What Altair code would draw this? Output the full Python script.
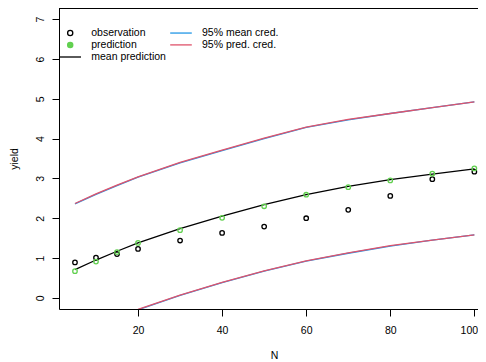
import altair as alt
import pandas as pd

# ---- data ----
N_all = [5, 10, 15, 20, 30, 40, 50, 60, 70, 80, 90, 100]
observation = [0.89, 1.01, 1.10, 1.23, 1.44, 1.63, 1.79, 2.00, 2.21, 2.56, 2.98, 3.17]
prediction = [0.67, 0.91, 1.15, 1.38, 1.70, 2.01, 2.30, 2.59, 2.78, 2.95, 3.12, 3.25]
mean_prediction = [0.71, 0.95, 1.17, 1.38, 1.74, 2.05, 2.34, 2.59, 2.80, 2.97, 3.11, 3.24]

mean_cred_upper = [2.36, 2.60, 2.82, 3.03, 3.39, 3.70, 4.00, 4.28, 4.47, 4.63, 4.78, 4.92]
pred_cred_upper = [2.37, 2.61, 2.83, 3.04, 3.40, 3.71, 4.01, 4.29, 4.48, 4.63, 4.78, 4.92]

N_lower = [20, 30, 40, 50, 60, 70, 80, 90, 100]
mean_cred_lower = [-0.30, 0.06, 0.38, 0.67, 0.92, 1.12, 1.30, 1.45, 1.58]
pred_cred_lower = [-0.29, 0.07, 0.39, 0.68, 0.93, 1.13, 1.31, 1.45, 1.58]

x_ticks = [20, 40, 60, 80, 100]
y_ticks = [0, 1, 2, 3, 4, 5, 6, 7]

legend_labels = ["observation", "prediction", "mean prediction", "95% mean cred.", "95% pred. cred."]

# ---- styles ----
BLACK = "#000000"
BLUE = "#2297E6"
RED = "#DF536B"
GREEN = "#61D04F"
FONT = "Liberation Sans"
FS = 10.5

OPEN_CIRCLE = "M0.52,0A0.52,0.52,0,1,1,-0.52,0A0.52,0.52,0,1,1,0.52,0Z"
DOT = ("M0.52,0A0.52,0.52,0,1,1,-0.52,0A0.52,0.52,0,1,1,0.52,0Z"
       "M0.3,0A0.3,0.3,0,1,1,-0.3,0A0.3,0.3,0,1,1,0.3,0Z"
       "M0.1,0A0.1,0.1,0,1,1,-0.1,0A0.1,0.1,0,1,1,0.1,0Z")
SEG = "M-2.16,0L2.16,0"
legend_colors = [BLACK, GREEN, BLACK, BLUE, RED]
legend_shapes = [OPEN_CIRCLE, DOT, SEG, SEG, SEG]

# ---- tables ----
pts = pd.DataFrame({"N": N_all, "obs": observation, "pred": prediction, "mean": mean_prediction})
mean_band = pd.concat([
    pd.DataFrame({"N": N_all, "value": mean_cred_upper, "bound": "upper"}),
    pd.DataFrame({"N": N_lower, "value": mean_cred_lower, "bound": "lower"}),
])
pred_band = pd.concat([
    pd.DataFrame({"N": N_all, "value": pred_cred_upper, "bound": "upper"}),
    pd.DataFrame({"N": N_lower, "value": pred_cred_lower, "bound": "lower"}),
])
leg_df = pd.DataFrame({"series": legend_labels})

W, H = 419, 301
xscale = alt.Scale(domain=[1.2, 1.2 + W / 4.204], nice=False, zero=False)
yscale = alt.Scale(domain=[-0.28, 7.28], nice=False, zero=False)

x_bottom = alt.Axis(values=x_ticks, title="N", tickSize=7,
                    labelBaseline="middle", labelPadding=14, labelFlush=False,
                    labelOffset={"condition": {"test": "datum.value === 100", "value": -5.5}, "value": 0},
                    titleX=215, titleY=46, titleBaseline="middle",
                    domain=True, grid=False)
y_left = alt.Axis(values=y_ticks, title="yield", tickSize=7, labelAngle=270,
                  labelAlign="center", labelBaseline="middle", labelPadding=12,
                  labelFlush=False, titleX=-45, titleBaseline="middle",
                  domain=True, grid=False)

base_x = alt.X("N:Q", scale=xscale, axis=x_bottom)

blue_lines = alt.Chart(mean_band).mark_line(color=BLUE, strokeWidth=1.3, clip=True).encode(
    x=base_x,
    y=alt.Y("value:Q", scale=yscale, axis=y_left),
    detail="bound:N",
)
red_lines = alt.Chart(pred_band).mark_line(color=RED, strokeWidth=1.3, clip=True).encode(
    x=base_x,
    y=alt.Y("value:Q", scale=yscale, axis=y_left),
    detail="bound:N",
)
mean_line = alt.Chart(pts).mark_line(color=BLACK, strokeWidth=1.3, clip=True).encode(
    x=base_x,
    y=alt.Y("mean:Q", scale=yscale, axis=y_left),
)
obs_pts = alt.Chart(pts).mark_point(shape="circle", filled=False, color=BLACK, size=20,
                                    strokeWidth=1.3, opacity=1).encode(
    x=base_x,
    y=alt.Y("obs:Q", scale=yscale, axis=y_left),
)
pred_pts = alt.Chart(pts).mark_point(shape="circle", filled=False, color=GREEN, size=20,
                                     strokeWidth=1.3, opacity=1).encode(
    x=base_x,
    y=alt.Y("pred:Q", scale=yscale, axis=y_left),
)
# top border of the plot box
top_border = alt.Chart(leg_df).mark_rule(color=BLACK, strokeWidth=1).encode(
    x=alt.value(0), x2=alt.value(W), y=alt.value(0.5)
)

leg = alt.Legend(title=None, orient="none", legendX=5.2, legendY=18.8, columns=2,
                 symbolSize=100, symbolStrokeWidth=1.3, symbolOpacity=1,
                 labelFont=FONT, labelFontSize=FS, labelColor=BLACK,
                 labelOffset=15, rowPadding=0.1, columnPadding=0.8, padding=0)
legend_layer = alt.Chart(leg_df).mark_point(filled=False, opacity=0).encode(
    color=alt.Color("series:N", scale=alt.Scale(domain=legend_labels, range=legend_colors), legend=leg),
    shape=alt.Shape("series:N", scale=alt.Scale(domain=legend_labels, range=legend_shapes), legend=leg),
)

chart = alt.layer(blue_lines, red_lines, mean_line, obs_pts, pred_pts, top_border, legend_layer).properties(
    width=W, height=H,
    autosize=alt.AutoSizeParams(type="none"),
    padding={"left": 51, "top": 0, "right": 0, "bottom": 56},
).configure_view(stroke=None).configure_axis(
    labelFont=FONT, labelFontSize=FS, labelColor=BLACK,
    titleFont=FONT, titleFontSize=FS, titleColor=BLACK, titleFontWeight="normal",
    tickColor=BLACK, tickWidth=1, domainColor=BLACK, domainWidth=1,
)

chart.save("out.html", embed_options={"renderer": "svg", "actions": False})
